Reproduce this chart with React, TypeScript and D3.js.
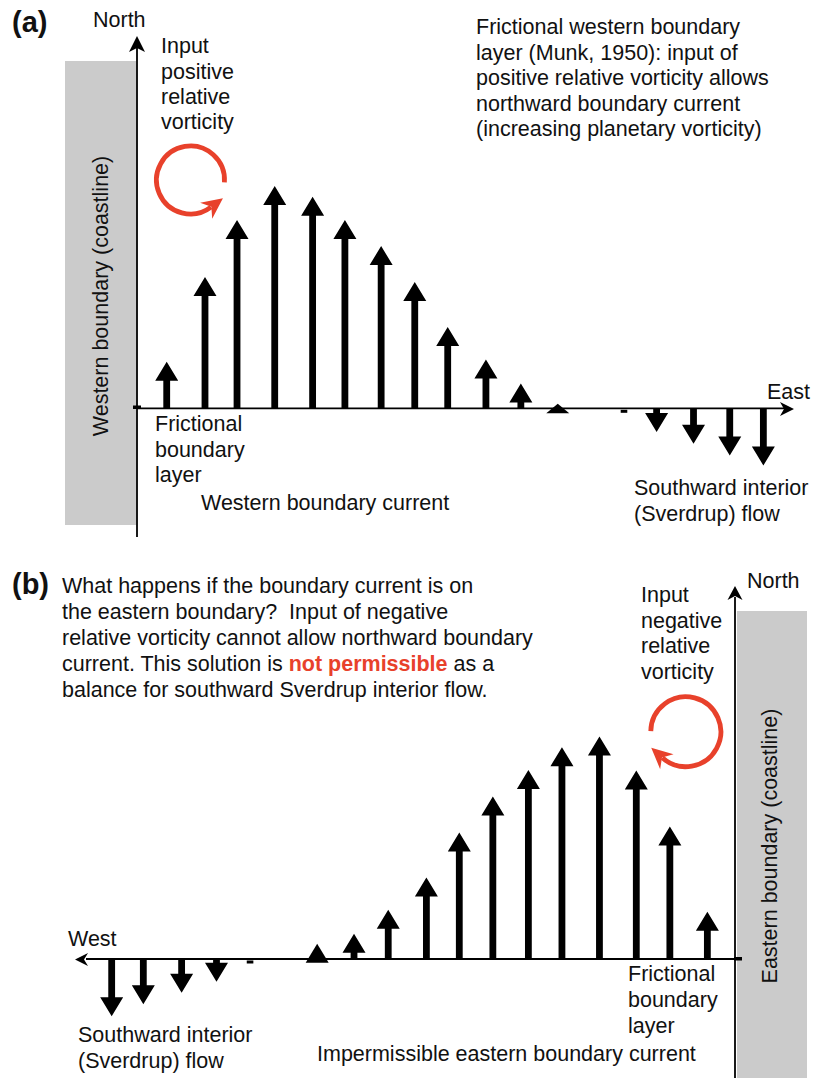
import React from 'react';
import * as d3 from 'd3';

// Panel (a): western boundary current — distance east of the western boundary (% of basin), northward velocity (% of max)
const distA = [4.66, 10.47, 15.33, 21.05, 26.8, 31.7, 37.2, 42.3, 47.3, 53.1, 58.4, 64.0, 74.05, 79.0, 84.6, 90.1, 95.2];
const velA = [20.9, 59.1, 84.7, 100, 95.2, 84.7, 73.0, 56.8, 36.6, 21.9, 11.1, 2.1, 0, -10.7, -15.9, -21.2, -25.7];

// Panel (b): hypothetical eastern boundary current — distance east of the western edge of the plot (% of basin)
const distB = [5.27, 10.08, 15.9, 21.2, 26.3, 36.5, 42.1, 47.3, 53.1, 58.1, 63.2, 68.6, 73.7, 79.4, 85.0, 90.1, 95.8];
const velB = [-25.7, -20.3, -15.2, -10.2, 0, 6.8, 11.4, 22.1, 36.6, 56.9, 73.0, 85.0, 95.2, 100, 84.7, 59.6, 21.2];

const textTopRightA = [
  'Frictional western boundary',
  'layer (Munk, 1950): input of',
  'positive relative vorticity allows',
  'northward boundary current',
  '(increasing planetary vorticity)',
];
const inputPosLines = ['Input', 'positive', 'relative', 'vorticity'];
const inputNegLines = ['Input', 'negative', 'relative', 'vorticity'];
const frictionalLines = ['Frictional', 'boundary', 'layer'];
const sverdrupLines = ['Southward interior', '(Sverdrup) flow'];

const RED = '#e8412b';
const GRAY = '#cbcbcb';
const FONT = '"Liberation Sans", Arial, Helvetica, sans-serif';
const FS = 21.5;

function arrowPath(x: number, y0: number, y1: number): string {
  const len = Math.abs(y1 - y0);
  const dir = y1 < y0 ? -1 : 1;
  const hw = 11.5;
  const sw = 3.4;
  const headLen = Math.min(19, len + 5);
  const neck = y1 - dir * headLen;
  if (headLen >= len) {
    return `M${x - hw},${neck}L${x},${y1}L${x + hw},${neck}Z`;
  }
  return `M${x - sw},${y0}L${x - sw},${neck}L${x - hw},${neck}L${x},${y1}L${x + hw},${neck}L${x + sw},${neck}L${x + sw},${y0}Z`;
}

function Arrows({ dist, vel, xs, ys }: { dist: number[]; vel: number[]; xs: d3.ScaleLinear<number, number>; ys: d3.ScaleLinear<number, number> }) {
  const y0 = ys(0);
  return (
    <g>
      {dist.map((d, i) => {
        const x = xs(d);
        const v = vel[i];
        if (v === 0) {
          return <rect key={i} x={x - 3.3} y={y0 + 1.5} width={6.6} height={3} fill="#000" />;
        }
        return <path key={i} d={arrowPath(x, y0, ys(v))} fill="#000" />;
      })}
    </g>
  );
}

function axisHead(tx: number, ty: number, dx: number, dy: number, L = 15, W = 15, notch = 4): string {
  const nx = -dy, ny = dx;
  const bx = tx - dx * L, by = ty - dy * L;
  const mx = tx - dx * (L - notch), my = ty - dy * (L - notch);
  return `M${tx},${ty}L${bx + nx * W / 2},${by + ny * W / 2}L${mx},${my}L${bx - nx * W / 2},${by - ny * W / 2}Z`;
}

function vortexArrow(cx: number, cy: number, r: number, startDeg: number, endDeg: number, clockwise: boolean) {
  const rad = Math.PI / 180;
  const s = startDeg * rad, e = endDeg * rad;
  const sx = cx + r * Math.cos(s), sy = cy + r * Math.sin(s);
  const ex = cx + r * Math.cos(e), ey = cy + r * Math.sin(e);
  const arc = `M${sx},${sy}A${r},${r} 0 1 ${clockwise ? 1 : 0} ${ex},${ey}`;
  const dx = clockwise ? -Math.sin(e) : Math.sin(e);
  const dy = clockwise ? Math.cos(e) : -Math.cos(e);
  const nx = -dy, ny = dx;
  const tip = [ex + dx * 15, ey + dy * 15];
  const bb = [ex - dx * 6, ey - dy * 6];
  const b1 = [bb[0] + nx * 10, bb[1] + ny * 10];
  const b2 = [bb[0] - nx * 10, bb[1] - ny * 10];
  const notch = [ex + dx * 0.5, ey + dy * 0.5];
  const head = `M${tip[0]},${tip[1]}L${b1[0]},${b1[1]}L${notch[0]},${notch[1]}L${b2[0]},${b2[1]}Z`;
  return (
    <g>
      <path d={arc} fill="none" stroke={RED} strokeWidth={4.8} />
      <path d={head} fill={RED} />
    </g>
  );
}

export default function App() {
  // Panel (a) scales
  const xA = d3.scaleLinear().domain([0, 100]).range([136, 795]);
  const yA = d3.scaleLinear().domain([0, 100]).range([408.3, 186]);
  // Panel (b) scales
  const xB = d3.scaleLinear().domain([0, 100]).range([77, 735]);
  const yB = d3.scaleLinear().domain([0, 100]).range([959, 736.5]);

  const tStyle: React.CSSProperties = { whiteSpace: 'pre' };
  const lh = 25.6;

  return (
    <svg width={815} height={1078} style={{ position: 'absolute', left: 0, top: 0, background: '#fff' }} fontFamily={FONT} fontSize={FS} fill="#111">
      <rect x={0} y={0} width={815} height={1078} fill="#fff" />
      {/* ---------- Panel (a) ---------- */}
      <rect x={65} y={61} width={71.5} height={464} fill={GRAY} />
      <line x1={137} y1={46} x2={137} y2={537} stroke="#000" strokeWidth={1.8} />
      <path d={axisHead(137, 36, 0, -1, 16, 16, 4)} fill="#000" />
      <line x1={137} y1={408.3} x2={785} y2={408.3} stroke="#000" strokeWidth={1.8} />
      <path d={axisHead(794, 409, 1, 0, 14, 14, 4)} fill="#000" />
      <rect x={133} y={405.5} width={8} height={3.5} fill="#000" />
      <Arrows dist={distA} vel={velA} xs={xA} ys={yA} />
      {vortexArrow(190.5, 180, 34, 4, 53, false)}

      <text x={12} y={32} fontWeight="bold" fontSize={29}>(a)</text>
      <text x={93} y={27}>North</text>
      <text x={767} y={399}>East</text>
      {inputPosLines.map((l, i) => (
        <text key={i} x={161} y={53.3 + i * 25.3}>{l}</text>
      ))}
      {textTopRightA.map((l, i) => (
        <text key={i} x={476} y={34 + i * lh}>{l}</text>
      ))}
      {frictionalLines.map((l, i) => (
        <text key={i} x={155} y={431 + i * lh}>{l}</text>
      ))}
      <text x={201} y={510}>Western boundary current</text>
      {sverdrupLines.map((l, i) => (
        <text key={i} x={634} y={495 + i * lh}>{l}</text>
      ))}
      <text transform="translate(107.5,296) rotate(-90)" textAnchor="middle">Western boundary (coastline)</text>

      {/* ---------- Panel (b) ---------- */}
      <rect x={737} y={611} width={70} height={467} fill={GRAY} />
      <line x1={735} y1={597} x2={735} y2={1078} stroke="#000" strokeWidth={1.8} />
      <path d={axisHead(735, 586, 0, -1, 14, 15, 4)} fill="#000" />
      <line x1={86} y1={959} x2={735} y2={959} stroke="#000" strokeWidth={1.8} />
      <path d={axisHead(75, 959.5, -1, 0, 13, 13, 4)} fill="#000" />
      <rect x={734} y={957} width={8} height={3.5} fill="#000" />
      <Arrows dist={distB} vel={velB} xs={xB} ys={yB} />
      {vortexArrow(685.8, 731.7, 35, 181, 132 + 360, true)}

      <text x={12} y={594} fontWeight="bold" fontSize={29}>(b)</text>
      <text x={62} y={593.3} style={tStyle}>What happens if the boundary current is on</text>
      <text x={62} y={593.3 + 25.85} style={tStyle}>the eastern boundary?  Input of negative</text>
      <text x={62} y={593.3 + 2 * 25.85} style={tStyle}>relative vorticity cannot allow northward boundary</text>
      <text x={62} y={593.3 + 3 * 25.85} style={tStyle}>
        current. This solution is <tspan fontWeight="bold" fill={RED}>not permissible</tspan> as a
      </text>
      <text x={62} y={593.3 + 4 * 25.85} style={tStyle}>balance for southward Sverdrup interior flow.</text>

      <text x={747} y={588}>North</text>
      <text x={68} y={946}>West</text>
      {inputNegLines.map((l, i) => (
        <text key={i} x={641} y={601.7 + i * 25.8}>{l}</text>
      ))}
      {frictionalLines.map((l, i) => (
        <text key={i} x={628} y={981.4 + i * 25.8}>{l}</text>
      ))}
      {sverdrupLines.map((l, i) => (
        <text key={i} x={78} y={1042 + i * 26}>{l}</text>
      ))}
      <text x={317} y={1060.5}>Impermissible eastern boundary current</text>
      <text transform="translate(777,846) rotate(-90)" textAnchor="middle">Eastern boundary (coastline)</text>
    </svg>
  );
}
